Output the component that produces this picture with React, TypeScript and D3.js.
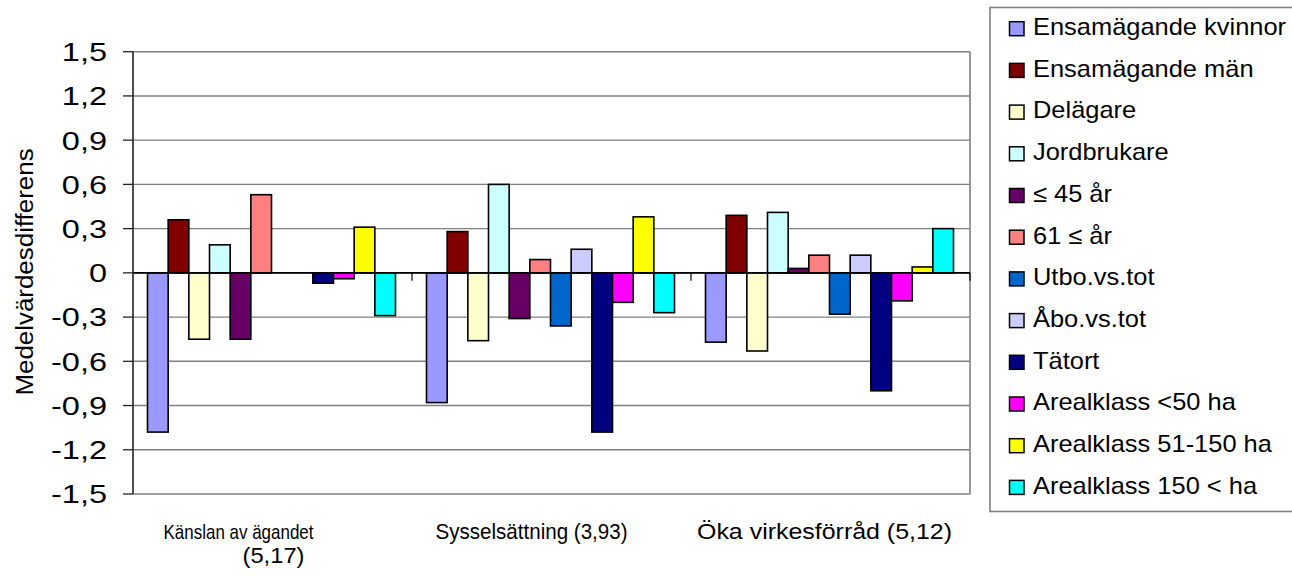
import React, { useEffect } from "react";
import * as d3 from "d3";

// ---------- data ----------
const categories = [
  "Känslan av ägandet (5,17)",
  "Sysselsättning (3,93)",
  "Öka virkesförråd (5,12)",
];
const categoryLines = [
  ["Känslan av ägandet", "(5,17)"],
  ["Sysselsättning (3,93)"],
  ["Öka virkesförråd (5,12)"],
];

const seriesNames = [
  "Ensamägande kvinnor",
  "Ensamägande män",
  "Delägare",
  "Jordbrukare",
  "≤ 45 år",
  "61 ≤ år",
  "Utbo.vs.tot",
  "Åbo.vs.tot",
  "Tätort",
  "Arealklass <50 ha",
  "Arealklass 51-150 ha",
  "Arealklass 150 < ha",
];
const seriesColors = [
  "#9999FF",
  "#800000",
  "#FFFFCC",
  "#CCFFFF",
  "#660066",
  "#FF8080",
  "#0066CC",
  "#CCCCFF",
  "#000080",
  "#FF00FF",
  "#FFFF00",
  "#00FFFF",
];

const ensamKvinnor = [-1.08, -0.88, -0.47];
const ensamMan = [0.36, 0.28, 0.39];
const delagare = [-0.45, -0.46, -0.53];
const jordbrukare = [0.19, 0.6, 0.41];
const under45 = [-0.45, -0.31, 0.03];
const over61 = [0.53, 0.09, 0.12];
const utbo = [null, -0.36, -0.28];
const abo = [null, 0.16, 0.12];
const tatort = [-0.07, -1.08, -0.8];
const areal50 = [-0.04, -0.2, -0.19];
const areal51_150 = [0.31, 0.38, 0.04];
const areal150plus = [-0.29, -0.27, 0.3];

const seriesValues: (number | null)[][] = [
  ensamKvinnor,
  ensamMan,
  delagare,
  jordbrukare,
  under45,
  over61,
  utbo,
  abo,
  tatort,
  areal50,
  areal51_150,
  areal150plus,
];

const yTicks = [-1.5, -1.2, -0.9, -0.6, -0.3, 0, 0.3, 0.6, 0.9, 1.2, 1.5];
const yTitle = "Medelvärdesdifferens";

// ---------- layout / style ----------
const W = 1292;
const H = 577;
const plot = { left: 133, right: 970, top: 51.7, bottom: 494 };
const FONT = "'Liberation Sans', Arial, Helvetica, sans-serif";
const GRID = "#808080";
// visual offsets of category labels relative to their band centers
const labelDx = [[-34, 1], [-20], [-6]];
const labelLen = [[150, 62], [192], [255]];
const labelSize = [[21, 22], [22], [22]];

const locale = d3.formatLocale({
  decimal: ",",
  thousands: " ",
  grouping: [3],
  currency: ["", " kr"],
  minus: "-",
});
const fmt = locale.format(".1f");
const tickFmt = (v: number) => (v === 0 ? "0" : fmt(v));

export default function App() {
  useEffect(() => {
    document.body.style.margin = "0";
  }, []);

  const y = d3.scaleLinear().domain([-1.5, 1.5]).range([plot.bottom, plot.top]);
  const x0 = d3
    .scaleBand<string>()
    .domain(categories)
    .range([plot.left, plot.right])
    .paddingInner(0)
    .paddingOuter(0);
  const bw = x0.bandwidth();
  const barW = bw / (seriesNames.length + 1.5);
  const x1 = d3
    .scaleBand<string>()
    .domain(seriesNames)
    .range([barW * 0.75 - 1, bw - barW * 0.75 - 1]);

  const y0 = y(0);

  return (
    <svg
      width={W}
      height={H}
      viewBox={`0 0 ${W} ${H}`}
      style={{ display: "block", background: "#fff" }}
      fontFamily={FONT}
    >
      {/* gridlines */}
      {yTicks.map((t) => (
        <line
          key={"g" + t}
          x1={plot.left}
          x2={plot.right}
          y1={y(t)}
          y2={y(t)}
          stroke={GRID}
          strokeWidth={1.4}
        />
      ))}
      {/* right border */}
      <line
        x1={plot.right}
        x2={plot.right}
        y1={plot.top}
        y2={plot.bottom}
        stroke={GRID}
        strokeWidth={1.6}
      />

      {/* bars */}
      {categories.map((c, ci) => (
        <g key={c} transform={`translate(${x0(c)},0)`}>
          {seriesNames.map((s, si) => {
            const v = seriesValues[si][ci];
            if (v === null || v === undefined) return null;
            const yTop = Math.min(y(v), y0);
            const h = Math.abs(y(v) - y0);
            return (
              <rect
                key={s}
                x={x1(s)}
                y={yTop}
                width={x1.bandwidth()}
                height={h}
                fill={seriesColors[si]}
                stroke="#000"
                strokeWidth={1.6}
              />
            );
          })}
        </g>
      ))}

      {/* zero line (category axis) */}
      <line
        x1={plot.left}
        x2={plot.right}
        y1={y0}
        y2={y0}
        stroke="#000"
        strokeWidth={1.6}
      />
      {/* category ticks */}
      {categories.map((c) => (
        <line
          key={"ct" + c}
          x1={(x0(c) as number) + bw}
          x2={(x0(c) as number) + bw}
          y1={y0}
          y2={y0 + 8}
          stroke="#000"
          strokeWidth={1.2}
        />
      ))}

      {/* y axis */}
      <line
        x1={plot.left}
        x2={plot.left}
        y1={plot.top}
        y2={plot.bottom}
        stroke="#222"
        strokeWidth={1.6}
      />
      {yTicks.map((t) => (
        <g key={"t" + t}>
          <line
            x1={plot.left - 10}
            x2={plot.left}
            y1={y(t)}
            y2={y(t)}
            stroke="#222"
            strokeWidth={1.3}
          />
          <text
            transform={`translate(107,${y(t)}) scale(1.25,1)`}
            textAnchor="end"
            dy="0.36em"
            fontSize={26}
            fill="#000"
          >
            {tickFmt(t)}
          </text>
        </g>
      ))}

      {/* y title */}
      <text
        transform={`translate(33,272) rotate(-90) scale(1.08,1)`}
        textAnchor="middle"
        fontSize={24}
        fill="#000"
      >
        {yTitle}
      </text>

      {/* category labels */}
      {categoryLines.map((lines, ci) => {
        const cx = (x0(categories[ci]) as number) + bw / 2;
        return lines.map((ln, li) => (
          <text
            key={"cl" + ci + li}
            x={cx + labelDx[ci][li]}
            y={539 + li * 24}
            textAnchor="middle"
            fontSize={labelSize[ci][li]}
            textLength={labelLen[ci][li]}
            lengthAdjust="spacingAndGlyphs"
            fill="#000"
          >
            {ln}
          </text>
        ));
      })}

      {/* legend */}
      <rect
        x={990}
        y={7.5}
        width={330}
        height={504}
        fill="#fff"
        stroke={GRID}
        strokeWidth={1.6}
      />
      {seriesNames.map((s, i) => {
        const ry = 26.7 + i * 41.7;
        return (
          <g key={"lg" + s}>
            <rect
              x={1009.5}
              y={ry - 5}
              width={14.5}
              height={14}
              fill={seriesColors[i]}
              stroke="#000"
              strokeWidth={1.5}
            />
            <text
              transform={`translate(1033,${ry + 8.3}) scale(1.06,1)`}
              fontSize={24}
              fill="#000"
            >
              {s}
            </text>
          </g>
        );
      })}
    </svg>
  );
}
